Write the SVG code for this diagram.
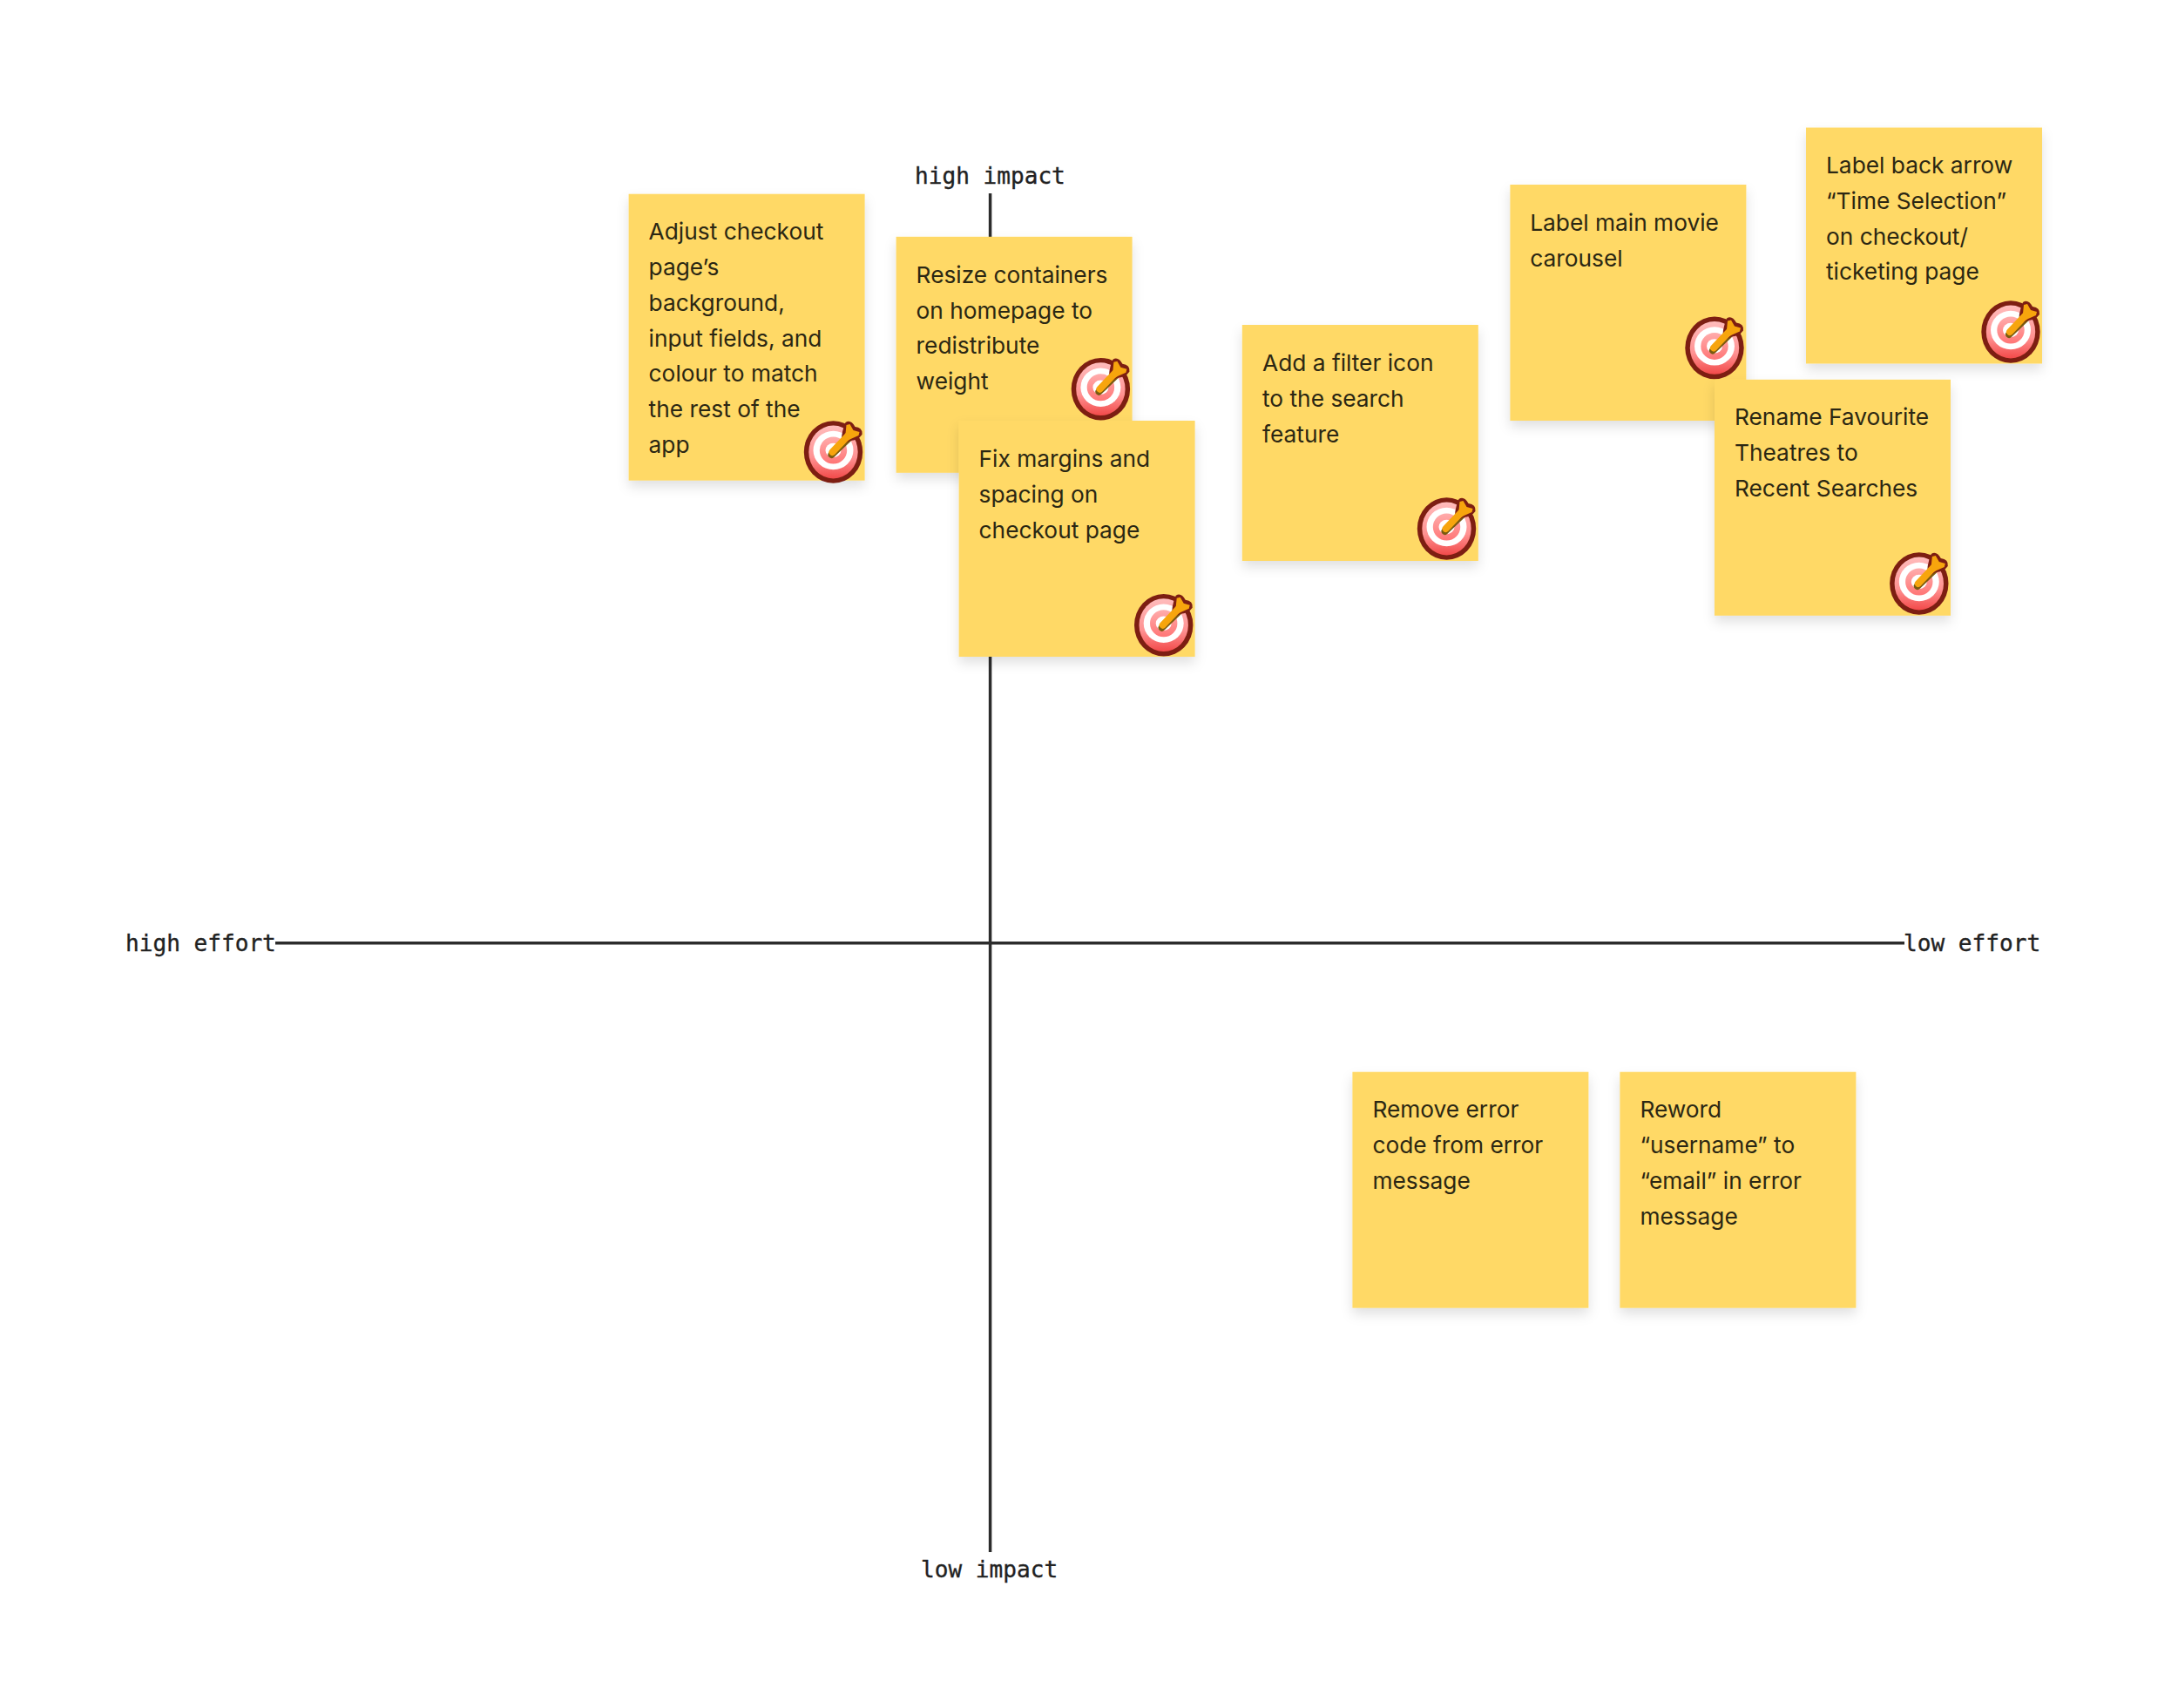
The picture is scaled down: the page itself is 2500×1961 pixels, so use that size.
<svg xmlns="http://www.w3.org/2000/svg" xmlns:xlink="http://www.w3.org/1999/xlink" width="2500" height="1961" viewBox="0 0 2500 1961">
<style>
.note{fill:#FFD966;filter:url(#sh)}
.t{font-family:"Inter","Liberation Sans",sans-serif;font-size:26.3px;fill:#2b2713}
.m{font-family:"DejaVu Sans Mono","Liberation Mono",monospace;font-size:26.1px;fill:#222;stroke:#222;stroke-width:0.35}
.axis{stroke:#2c2c2c;stroke-width:3.5;fill:none}
</style>
<defs>
<filter id="sh" x="-15%" y="-15%" width="130%" height="130%"><feDropShadow dx="0" dy="7" stdDeviation="7" flood-color="#000" flood-opacity="0.12"/></filter>
<linearGradient id="rg" x1="0" y1="0" x2="0" y2="1"><stop offset="0" stop-color="#ffbcbc"/><stop offset="0.6" stop-color="#ff9292"/><stop offset="1" stop-color="#f24a4a"/></linearGradient>
<linearGradient id="rp" x1="0" y1="0" x2="0" y2="1"><stop offset="0" stop-color="#ffacac"/><stop offset="1" stop-color="#ff7676"/></linearGradient>
<g id="target">
<ellipse rx="33.7" ry="35.8" fill="#7d1e12"/>
<ellipse rx="28.2" ry="30.4" fill="url(#rg)"/>
<ellipse cy="-2" rx="23" ry="22.2" fill="#fff"/>
<ellipse cy="-2" rx="15.7" ry="15.5" fill="url(#rp)"/>
<ellipse cy="-2" rx="9" ry="8.2" fill="#fff"/>
<path d="M-2 3L18-16" stroke="#7a5a10" stroke-width="8" stroke-linecap="round" fill="none"/>
<path d="M14-34Q20-38 25-29Q34-28 33-20Q28-13 19-13L10-8Q8-20 14-34Z" fill="#7d1e12"/>
<path d="M-1 0L18-20" stroke="#f7a50d" stroke-width="8" stroke-linecap="round" fill="none"/>
<path d="M15-31L19-32L23-25L30-23L29-19L20-15L13-11Z" fill="#f7a50d"/>
</g>
</defs>
<rect width="2500" height="1961" fill="#fff"/>
<g id="connectors">
<path class="axis" d="M1136.6 222V1782"/>
<path class="axis" d="M316 1082.7H2186"/>
</g>
<g id="axis-labels">
<text id="label-high-impact" class="m" x="1050" y="211">high impact</text>
<text id="label-low-impact" class="m" x="1057" y="1811">low impact</text>
<text id="label-high-effort" class="m" x="144" y="1091.5">high effort</text>
<text id="label-low-effort" class="m" x="2185" y="1091.5">low effort</text>
</g>
<g id="note-adjust">
<rect class="note" x="721.6" y="222.7" width="271" height="329"/>
<text class="t" x="744.6" y="275">Adjust checkout</text>
<text class="t" x="744.6" y="316">page’s</text>
<text class="t" x="744.6" y="356.8">background,</text>
<text class="t" x="744.6" y="397.6">input fields, and</text>
<text class="t" x="744.6" y="438.4">colour to match</text>
<text class="t" x="744.6" y="479.2">the rest of the</text>
<text class="t" x="744.6" y="520">app</text>
<use href="#target" x="956.5" y="519"/>
</g>
<g id="note-resize">
<rect class="note" x="1028.6" y="271.8" width="271" height="271"/>
<text class="t" x="1051.6" y="324.6">Resize containers</text>
<text class="t" x="1051.6" y="365.6">on homepage to</text>
<text class="t" x="1051.6" y="406.4">redistribute</text>
<text class="t" x="1051.6" y="447.2">weight</text>
<use href="#target" x="1263.4" y="446.7"/>
</g>
<g id="note-fix">
<rect class="note" x="1100.6" y="483" width="271" height="271"/>
<text class="t" x="1123.6" y="535.8">Fix margins and</text>
<text class="t" x="1123.6" y="576.8">spacing on</text>
<text class="t" x="1123.6" y="617.6">checkout page</text>
<use href="#target" x="1335.7" y="717.7"/>
</g>
<g id="note-filter">
<rect class="note" x="1425.8" y="373" width="271" height="271"/>
<text class="t" x="1449" y="425.8">Add a filter icon</text>
<text class="t" x="1449" y="466.8">to the search</text>
<text class="t" x="1449" y="507.6">feature</text>
<use href="#target" x="1660.5" y="607"/>
</g>
<g id="note-carousel">
<rect class="note" x="1733.4" y="212" width="271" height="271"/>
<text class="t" x="1756.2" y="264.8">Label main movie</text>
<text class="t" x="1756.2" y="305.8">carousel</text>
<use href="#target" x="1968" y="399.4"/>
</g>
<g id="note-back-arrow">
<rect class="note" x="2073" y="146.5" width="271" height="271"/>
<text class="t" x="2096" y="198.8">Label back arrow</text>
<text class="t" x="2096" y="239.8">“Time Selection”</text>
<text class="t" x="2096" y="280.6">on checkout/</text>
<text class="t" x="2096" y="321.4">ticketing page</text>
<use href="#target" x="2308" y="381"/>
</g>
<g id="note-rename">
<rect class="note" x="1968" y="435.8" width="271" height="271"/>
<text class="t" x="1991" y="488">Rename Favourite</text>
<text class="t" x="1991" y="529">Theatres to</text>
<text class="t" x="1991" y="569.8">Recent Searches</text>
<use href="#target" x="2202.8" y="670"/>
</g>
<g id="note-remove-code">
<rect class="note" x="1552.4" y="1230.7" width="271" height="271"/>
<text class="t" x="1575.4" y="1283">Remove error</text>
<text class="t" x="1575.4" y="1324">code from error</text>
<text class="t" x="1575.4" y="1364.8">message</text>
</g>
<g id="note-reword">
<rect class="note" x="1859.4" y="1230.7" width="271" height="271"/>
<text class="t" x="1882.4" y="1283">Reword</text>
<text class="t" x="1882.4" y="1324">“username” to</text>
<text class="t" x="1882.4" y="1364.8">“email” in error</text>
<text class="t" x="1882.4" y="1405.6">message</text>
</g>
</svg>
